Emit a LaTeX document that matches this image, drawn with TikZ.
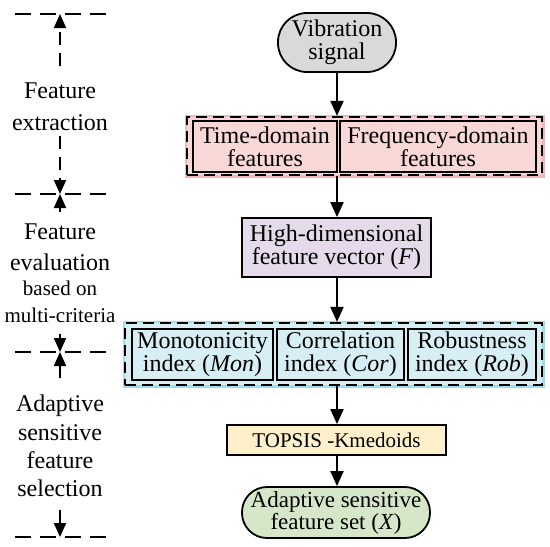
\documentclass[tikz,border=0pt]{standalone}
\usepackage{fontspec}
\setmainfont{Liberation Serif}
\usetikzlibrary{arrows.meta}
\definecolor{vgrey}{RGB}{217,217,217}
\definecolor{rfill}{RGB}{248,216,214}
\definecolor{rline}{RGB}{243,182,182}
\definecolor{pfill}{RGB}{229,218,233}
\definecolor{bfill}{RGB}{214,238,244}
\definecolor{bline}{RGB}{160,220,233}
\definecolor{yfill}{RGB}{255,240,204}
\definecolor{gfill}{RGB}{214,230,201}
\begin{document}
\begin{tikzpicture}[x=1pt,y=-1pt,
  box/.style={draw=black,line width=1.8pt,inner sep=0pt,align=center,font=\fontsize{24}{23}\selectfont},
  grpbox/.style={draw=black,line width=2.2pt,dash pattern=on 11pt off 6pt,inner sep=0pt},
  flow/.style={line width=2pt,-{Triangle[length=15pt,width=13pt]}},
  sidearr/.style={line width=2pt,-{Triangle[length=14pt,width=12pt]}},
  sepline/.style={line width=2pt,dash pattern=on 16pt off 9pt},
  lbl/.style={font=\fontsize{24}{28}\selectfont,inner sep=0pt,anchor=base},
  slbl/.style={font=\fontsize{21}{25}\selectfont,inner sep=0pt,anchor=base},
  ]
\useasboundingbox (0,0) rectangle (550,547);

% ---- right flow ----
\node[box,fill=vgrey,rounded corners=29pt,minimum width=118pt,minimum height=59pt] (vib) at (337,42.5) {Vibration\\signal};

\node[grpbox,fill=rfill,preaction={draw=rline,line width=5pt,solid},minimum width=355pt,minimum height=58pt] (redgrp) at (364.5,146) {};
\node[box,fill=rfill,minimum width=144pt,minimum height=51pt] (time) at (265,146.5) {Time-domain\\features};
\node[box,fill=rfill,minimum width=196pt,minimum height=51pt] (freq) at (438,146.5) {Frequency-domain\\features};

\node[box,fill=pfill,minimum width=189pt,minimum height=59pt] (hdf) at (336.5,247.5) {High-dimensional\\feature vector (\textit{F})};

\node[grpbox,fill=bfill,preaction={draw=bline,line width=5pt,solid},minimum width=417pt,minimum height=62pt] (bluegrp) at (333.5,354) {};
\node[box,fill=bfill,minimum width=141pt,minimum height=51pt] (mon) at (202.5,354.5) {Monotonicity\\index (\textit{Mon})};
\node[box,fill=bfill,minimum width=127pt,minimum height=51pt] (cor) at (340.5,354.5) {Correlation\\index (\textit{Cor})};
\node[box,fill=bfill,minimum width=128pt,minimum height=51pt] (rob) at (472,354.5) {Robustness\\index (\textit{Rob})};

\node[box,fill=yfill,minimum width=219pt,minimum height=30pt,font=\fontsize{21}{23}\selectfont] (topsis) at (336.5,440) {TOPSIS -Kmedoids};

\node[box,fill=gfill,rounded corners=25pt,minimum width=188pt,minimum height=51pt,font=\fontsize{23}{22}\selectfont] (adapt) at (336,512.5) {Adaptive sensitive\\feature set (\textit{X})};

\draw[flow] (vib.south) -- (vib.south |- redgrp.north);
\draw[flow] (vib.south |- redgrp.south) -- (vib.south |- hdf.north);
\draw[flow] (vib.south |- hdf.south) -- (vib.south |- bluegrp.north);
\draw[flow] (vib.south |- bluegrp.south) -- (vib.south |- topsis.north);
\draw[flow] (vib.south |- topsis.south) -- (vib.south |- adapt.north);

% ---- left stage column ----
\coordinate (s1) at (60,14);
\coordinate (s2) at (60,194);
\coordinate (s3) at (60,352);
\coordinate (s4) at (60,537);
\foreach \c in {s1,s2,s3,s4} \draw[sepline] ([xshift=-45pt]\c) -- ([xshift=47pt]\c);

\coordinate (a1) at (60,66);
\coordinate (a2) at (60,136);
\coordinate (a3) at (60,212);
\coordinate (a4) at (60,334);
\coordinate (a5) at (60,378);
\coordinate (a6) at (60,510);
\draw[sidearr,dash pattern=on 13pt off 8pt] (a1) -- (s1);
\draw[sidearr,dash pattern=on 13pt off 8pt] (a2) -- (s2);
\draw[sidearr] (a3) -- (s2);
\draw[sidearr] (a4) -- (s3);
\draw[sidearr] (a5) -- (s3);
\draw[sidearr] (a6) -- (s4);

\node[lbl] (l1a) at (60,98) {Feature};
\node[lbl] (l1b) at (60,130) {extraction};
\node[lbl] (l2a) at (60,239) {Feature};
\node[lbl] (l2b) at (60,270) {evaluation};
\node[slbl] (l2c) at (60,295) {based on};
\node[slbl] (l2d) at (60,322) {multi-criteria};
\node[lbl] (l3a) at (60,411) {Adaptive};
\node[lbl] (l3b) at (60,440) {sensitive};
\node[lbl] (l3c) at (60,468) {feature};
\node[lbl] (l3d) at (60,496) {selection};
\end{tikzpicture}
\end{document}
